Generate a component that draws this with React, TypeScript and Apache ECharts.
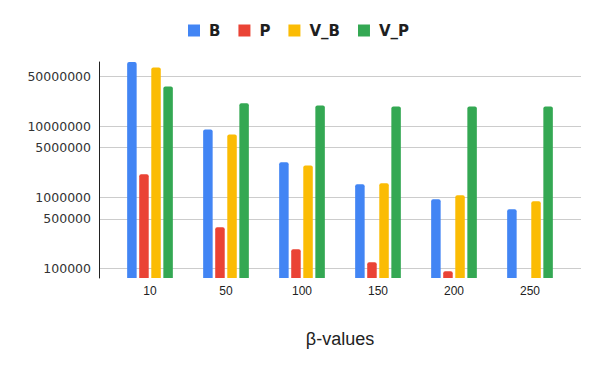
import React, { useEffect, useRef } from "react";
import * as echarts from "echarts";

const categories = ["10", "50", "100", "150", "200", "250"];
const seriesNames = ["B", "P", "V_B", "V_P"];
const B = [80000000, 9040000, 3110000, 1530000, 940000, 681000];
const P = [2110000, 380000, 187000, 123000, 91600, null];
const V_B = [67100000, 7690000, 2820000, 1580000, 1070000, 881000];
const V_P = [36300000, 21000000, 19600000, 19000000, 19000000, 19000000];
const yTickValues = [100000, 500000, 1000000, 5000000, 10000000, 50000000];
const Y_MIN = 73800;
const Y_MAX = 80000000;
const colors = ["#4285F4", "#EA4335", "#FBBC04", "#34A853"];

const lg = (v: number | null) => (v == null ? null : Math.log10(v));

export default function App() {
  const ref = useRef<HTMLDivElement>(null);
  useEffect(() => {
    if (!ref.current) return;
    document.body.style.margin = "0";
    const chart = echarts.init(ref.current, null, { renderer: "svg" });
    const logMin = Math.log10(Y_MIN);
    const logMax = Math.log10(Y_MAX);
    const tickLogs = yTickValues.map((v) => Math.log10(v));
    const all = [B, P, V_B, V_P];
    chart.setOption({
      animation: false,
      color: colors,
      legend: {
        data: seriesNames,
        top: 23,
        left: 188,
        padding: 0,
        icon: "rect",
        itemWidth: 12,
        itemHeight: 12,
        itemGap: 18,
        textStyle: {
          fontFamily: "DejaVu Sans",
          fontWeight: "bold",
          fontSize: 15,
          color: "#1f1f1f",
          padding: [0, 0, 0, 4],
        },
      },
      grid: [
        { left: 99, right: 19, top: 62, bottom: 93 },
        { left: 112, right: 32, top: 62, bottom: 93 },
      ],
      xAxis: [
        {
          gridIndex: 0,
          type: "category",
          data: [""],
          show: false,
        },
        {
          gridIndex: 1,
          type: "category",
          data: categories,
          axisLine: { show: false },
          axisTick: { show: false },
          axisLabel: {
            fontFamily: "Liberation Sans, Arial",
            fontSize: 12,
            color: "#222",
            margin: 7,
          },
          name: "β-values",
          nameLocation: "middle",
          nameGap: 52,
          nameTextStyle: {
            fontFamily: "Liberation Sans, Arial",
            fontSize: 18,
            color: "#222",
          },
        },
      ],
      yAxis: [
        {
          gridIndex: 0,
          type: "value",
          min: logMin,
          max: logMax,
          axisLine: { show: true, lineStyle: { color: "#222", width: 1 } },
          axisTick: { show: false, customValues: tickLogs },
          axisLabel: {
            customValues: tickLogs,
            formatter: (v: number) => String(Math.round(Math.pow(10, v))),
            fontFamily: "DejaVu Sans",
            fontSize: 12.5,
            color: "#333",
            margin: 8,
          },
          splitLine: { show: true, lineStyle: { color: "#cccccc", width: 1 } },
        },
        {
          gridIndex: 1,
          type: "value",
          min: logMin,
          max: logMax,
          startValue: logMin,
          show: false,
          splitLine: { show: false },
        },
      ],
      series: seriesNames.map((name, i) => ({
        name,
        type: "bar",
        xAxisIndex: 1,
        yAxisIndex: 1,
        data: all[i].map(lg),
        barWidth: 9.5,
        barGap: "27%",
        clip: true,
        itemStyle: { color: colors[i], borderRadius: [2, 2, 0, 0] },
      })),
    });
    return () => chart.dispose();
  }, []);
  return <div ref={ref} style={{ width: 600, height: 371 }} />;
}
